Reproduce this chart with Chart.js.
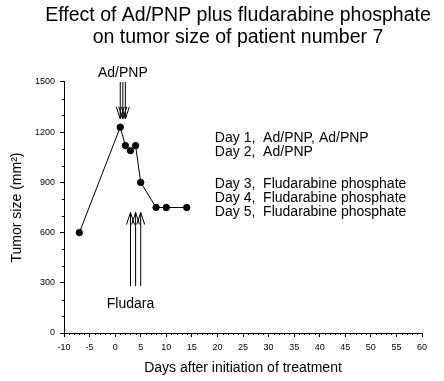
<!DOCTYPE html>
<html>
<head>
<meta charset="utf-8">
<script src="https://cdn.jsdelivr.net/npm/chart.js@4.4.1/dist/chart.umd.min.js"></script>
<style>
html,body{margin:0;padding:0;background:#ffffff;}
#wrap{width:444px;height:381px;}
</style>
</head>
<body>
<div id="wrap"><canvas id="c" width="444" height="381"></canvas></div>
<script>
// ---- data ----
const days = [-7, 1, 2, 3, 4, 5, 8, 10, 14];
const tumorSize = [600, 1230, 1120, 1090, 1120, 900, 750, 750, 750];

const titleLines = ['Effect of Ad/PNP plus fludarabine phosphate', 'on tumor size of patient number 7'];
const xAxisTitle = 'Days after initiation of treatment';
const yAxisTitle = 'Tumor size (mm\u00B2)';

const xMin = -10, xMax = 60, xStep = 5, xMinorStep = 1;
const yMin = 0, yMax = 1500, yStep = 300, yMinorStep = 100;

// treatment arrows (days and value range)
const adPnpArrowDays = [1, 1.5, 2];
const adPnpArrowFrom = 1500, adPnpArrowTo = 1280;
const adPnpLabel = 'Ad/PNP';
const fludaraArrowDays = [3, 4, 5];
const fludaraArrowFrom = 280, fludaraArrowTo = 720;
const fludaraLabel = 'Fludara';

const notesGroup1 = ['Day 1,  Ad/PNP, Ad/PNP', 'Day 2,  Ad/PNP'];
const notesGroup2 = ['Day 3,  Fludarabine phosphate', 'Day 4,  Fludarabine phosphate', 'Day 5,  Fludarabine phosphate'];

// ---- drawing ----
const FONT = "'Liberation Sans', Arial, sans-serif";

const extrasPlugin = {
  id: 'extras',
  afterDraw(chart) {
    const ctx = chart.ctx;
    const xs = chart.scales.x, ys = chart.scales.y;
    const area = chart.chartArea;
    ctx.save();
    ctx.strokeStyle = '#000';
    ctx.fillStyle = '#000';
    ctx.lineWidth = 1;

    // minor ticks
    ctx.beginPath();
    for (let v = xMin; v <= xMax; v += xMinorStep) {
      if (v % xStep === 0) continue;
      const px = Math.round(xs.getPixelForValue(v)) + 0.5;
      ctx.moveTo(px, area.bottom);
      ctx.lineTo(px, area.bottom + 2);
    }
    for (let v = yMin; v <= yMax; v += yMinorStep) {
      if (v % yStep === 0) continue;
      const py = Math.round(ys.getPixelForValue(v)) + 0.5;
      ctx.moveTo(area.left - 2, py);
      ctx.lineTo(area.left, py);
    }
    ctx.stroke();

    // arrows
    function arrow(day, fromV, toV) {
      const x = xs.getPixelForValue(day);
      const y0 = ys.getPixelForValue(fromV);
      const y1 = ys.getPixelForValue(toV);
      const dir = y1 > y0 ? 1 : -1;
      ctx.beginPath();
      ctx.moveTo(x, y0);
      ctx.lineTo(x, y1);
      ctx.moveTo(x - 4, y1 - dir * 12);
      ctx.lineTo(x, y1);
      ctx.lineTo(x + 4, y1 - dir * 12);
      ctx.stroke();
    }
    adPnpArrowDays.forEach(d => arrow(d, adPnpArrowFrom, adPnpArrowTo));
    fludaraArrowDays.forEach(d => arrow(d, fludaraArrowFrom, fludaraArrowTo));

    // arrow labels
    ctx.font = '14px ' + FONT;
    ctx.textAlign = 'center';
    ctx.textBaseline = 'middle';
    const adMid = (adPnpArrowDays[0] + adPnpArrowDays[adPnpArrowDays.length - 1]) / 2;
    ctx.fillText(adPnpLabel, xs.getPixelForValue(adMid), area.top - 9);
    ctx.fillText(fludaraLabel, xs.getPixelForValue(fludaraArrowDays[0]), ys.getPixelForValue(fludaraArrowFrom) + 18);

    // notes
    ctx.font = '14px ' + FONT;
    ctx.textAlign = 'left';
    const nx = xs.getPixelForValue(19.5);
    let ny = ys.getPixelForValue(1165);
    notesGroup1.forEach((t, i) => ctx.fillText(t, nx, ny + i * 14));
    ny = ys.getPixelForValue(888);
    notesGroup2.forEach((t, i) => ctx.fillText(t, nx, ny + i * 14));
    ctx.restore();
  }
};

new Chart(document.getElementById('c'), {
  type: 'scatter',
  data: {
    datasets: [{
      data: days.map((d, i) => ({ x: d, y: tumorSize[i] })),
      showLine: true,
      borderColor: '#000',
      borderWidth: 1,
      backgroundColor: '#000',
      pointBackgroundColor: '#000',
      pointBorderColor: '#000',
      pointRadius: 3.2,
      pointHoverRadius: 3.2,
      tension: 0
    }]
  },
  options: {
    responsive: false,
    animation: false,
    devicePixelRatio: 1,
    events: [],
    layout: { padding: { left: 32, right: 0, top: 0, bottom: 0 } },
    plugins: {
      legend: { display: false },
      tooltip: { enabled: false },
      title: {
        display: true,
        fullSize: true,
        text: titleLines,
        color: '#000',
        font: { family: FONT, size: 19.5, weight: 'normal', lineHeight: 1.128 },
        padding: { top: 4.2, bottom: 33.8 }
      }
    },
    scales: {
      x: {
        type: 'linear',
        min: xMin, max: xMax,
        border: { display: true, color: '#000', width: 1 },
        grid: { display: true, drawOnChartArea: false, drawTicks: true, tickLength: 4, tickColor: '#000', color: '#000' },
        ticks: { stepSize: xStep, color: '#000', font: { family: FONT, size: 9 }, padding: 5, maxRotation: 0, autoSkip: false, callback: v => String(v) },
        title: { display: true, text: xAxisTitle, color: '#000', font: { family: FONT, size: 14 }, padding: { top: 0, bottom: 4.6 } },
        afterFit(s) { s.height = 48; }
      },
      y: {
        type: 'linear',
        min: yMin, max: yMax,
        border: { display: true, color: '#000', width: 1 },
        grid: { display: true, drawOnChartArea: false, drawTicks: true, tickLength: 4, tickColor: '#000', color: '#000' },
        ticks: { stepSize: yStep, color: '#000', font: { family: FONT, size: 9 }, padding: 5, callback: v => String(v) },
        title: { display: true, text: yAxisTitle, color: '#000', font: { family: FONT, size: 14 }, padding: { top: -23.4, bottom: 0 } },
        afterFit(s) { s.width = 32; }
      },
      yRightSpace: {
        type: 'linear',
        position: 'right',
        display: true,
        min: yMin, max: yMax,
        border: { display: false },
        grid: { display: false, drawTicks: false },
        ticks: { display: false },
        afterFit(s) { s.width = 22; }
      }
    }
  },
  plugins: [extrasPlugin]
});
</script>
</body>
</html>
